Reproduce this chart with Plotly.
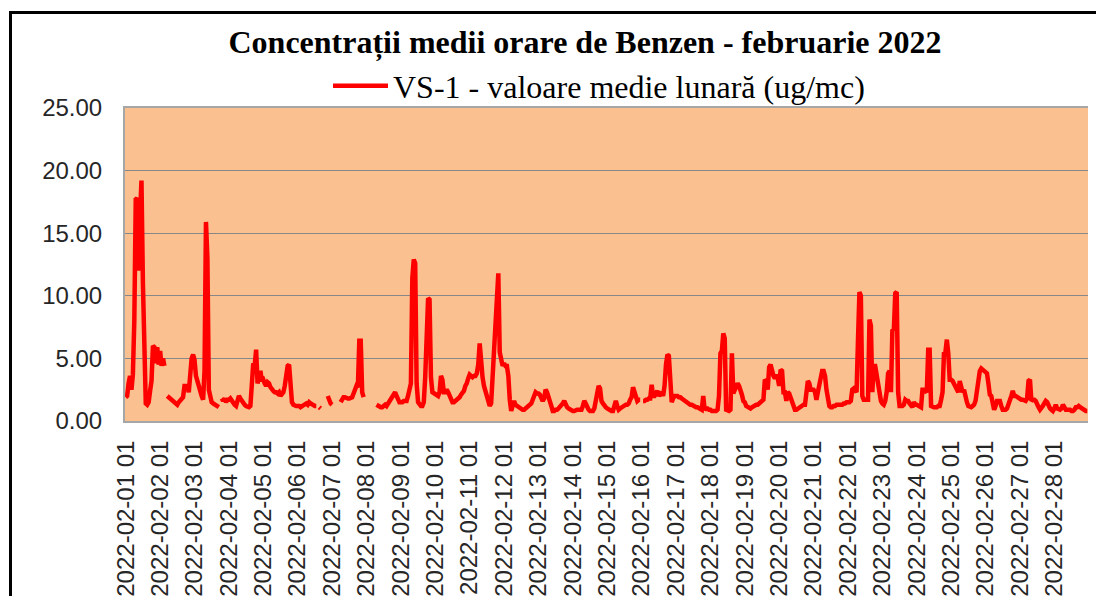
import plotly.graph_objects as go

# ---- categories / tick labels ----
days = [f"{d:02d}" for d in range(1, 29)]
hours = [f"{h:02d}" for h in range(1, 25)]
categories = [f"2022-02-{d} {h}" for d in days for h in hours]
tick_labels = [f"2022-02-{d} 01" for d in days]
y_ticks = [0, 5, 10, 15, 20, 25]

# ---- hourly benzene values (ug/mc), one list per day, None = missing ----
feb01 = [1.9, 2.0, 3.0, 3.6, 2.5, 3.7, 8.0, 17.7, 17.8, 12.0, 16.5, 19.2, 11.0, 3.5, 1.4, 1.3, 1.5, 2.4, 3.2, 6.0, 5.9, 4.6, 5.9, 4.5]
feb02 = [5.6, 4.4, 5.0, 4.4, None, 2.0, 1.9, 1.8, 1.6, 1.5, 1.4, 1.3, 1.3, 1.5, 1.6, 1.8, 1.9, 2.8, 2.8, 2.8, 2.3, 4.4, 5.0, 5.3]
feb03 = [4.9, 3.6, 3.2, 2.5, 2.4, 2.0, 1.7, 4.0, 15.9, 13.0, 2.5, 1.7, 1.5, 1.4, 1.3, 1.3, 1.2, 1.1, None, 1.8, 1.6, 1.8, 1.5, 1.7]
feb04 = [1.7, 1.8, 1.6, 1.5, 1.3, 1.2, 1.5, 2.0, 1.8, 1.6, 1.4, 1.3, 1.2, 1.1, 1.1, 1.2, 2.5, 4.6, 4.4, 5.7, 3.0, 3.5, 4.0, 3.2]
feb05 = [3.3, 3.0, 2.8, 3.1, 3.0, 2.7, 2.5, 2.4, 2.3, 2.3, 2.2, 2.3, 2.0, 2.1, 2.3, 2.8, 3.6, 4.4, 4.5, 2.8, 1.5, 1.3, 1.2, 1.2]
feb06 = [1.2, 1.2, 1.1, 1.2, 1.3, 1.4, 1.4, 1.3, 1.5, 1.4, 1.3, 1.3, 1.2, 1.2, None, 1.1, 1.0, None, None, None, None, 2.0, 1.6, 1.4]
feb07 = [1.3, None, None, None, None, None, 1.5, 1.7, 1.9, 1.9, 1.8, 1.8, 1.8, 1.9, 1.9, 2.2, 2.6, 2.8, 2.7, 6.4, 6.4, 2.3, 1.9, None]
feb08 = [None, None, None, None, None, None, None, 1.3, 1.2, 1.2, 1.1, 1.1, 1.2, 1.3, 1.2, 1.4, 1.6, 1.8, 2.0, 2.2, 2.3, 2.0, 1.7, 1.5]
feb09 = [1.5, 1.5, 1.6, 1.6, 1.6, 2.0, 2.5, 3.0, 11.4, 12.9, 12.6, 3.0, 1.5, 1.3, 1.2, 1.2, 1.5, 3.5, 7.0, 9.8, 9.7, 3.5, 2.3, 2.2]
feb10 = [2.1, 2.1, 2.0, 2.3, 3.6, 3.3, 2.3, 2.3, 2.5, 2.3, 2.0, 1.8, 1.5, 1.5, 1.6, 1.6, 1.8, 1.9, 2.1, 2.3, 2.4, 2.8, 3.0, 3.4]
feb11 = [3.7, 3.6, 3.5, 3.6, 3.6, 3.8, 4.5, 6.2, 4.4, 3.5, 2.8, 2.3, 1.8, 1.4, 1.2, 1.4, 3.5, 5.7, 9.0, 10.5, 11.8, 5.5, 4.9, 4.4]
feb12 = [4.6, 4.4, 4.4, 3.6, 1.7, 0.8, 1.2, 1.6, 1.3, 1.2, 1.1, 1.1, 1.0, 0.9, 0.9, 1.0, 1.1, 1.1, 1.2, 1.4, 1.7, 2.0, 2.3, 2.2]
feb13 = [2.2, 2.1, 1.9, 1.6, 1.8, 2.5, 2.3, 2.0, 1.7, 1.2, 0.8, 0.8, 0.9, 0.9, 1.0, 1.1, 1.2, 1.4, 1.6, 1.3, 1.1, 1.0, 0.9, 0.8]
feb14 = [0.8, 0.8, 0.9, 0.9, 0.9, 0.9, 0.9, 1.2, 1.6, 1.4, 1.1, 0.9, 0.8, 0.8, 0.8, 1.0, 1.6, 2.2, 2.8, 2.6, 1.6, 1.4, 1.2, 1.1]
feb15 = [1.0, 0.9, 0.9, 0.8, 0.8, 1.2, 1.6, 1.2, 0.9, 1.0, 1.1, 1.2, 1.2, 1.3, 1.3, 1.4, 1.7, 1.9, 2.7, 2.3, 1.9, 1.6, 1.7, 1.7]
feb16 = [None, 1.6, 1.6, 1.7, 1.7, 1.8, 1.8, 2.9, 2.0, 2.0, 2.3, 2.4, 2.0, 2.2, 2.3, 2.0, 2.8, 4.5, 5.3, 5.2, 2.3, 1.5, 1.8, 2.0]
feb17 = [2.0, 2.0, 1.9, 1.9, 1.8, 1.7, 1.7, 1.6, 1.5, 1.4, 1.3, 1.3, 1.2, 1.2, 1.1, 1.1, 1.0, 0.9, 0.9, 2.0, 0.9, 1.0, 1.0, 0.9]
feb18 = [0.9, 0.8, 0.8, 0.8, 0.8, 0.9, 2.0, 5.4, 5.6, 7.0, 6.6, 0.9, 0.8, 0.8, 0.9, 5.4, 2.2, 2.5, 2.9, 3.0, 2.8, 2.5, 2.1, 1.6]
feb19 = [1.5, 1.2, 1.1, 1.0, 1.0, 1.1, 1.2, 1.2, 1.3, 1.3, 1.4, 1.4, 1.5, 1.7, 3.3, 3.2, 2.5, 4.3, 4.5, 3.8, 3.6, 3.4, 3.7, 3.4]
feb20 = [2.8, 4.1, 4.0, 2.3, 2.3, 1.6, 2.3, 2.2, 1.8, 1.5, 1.2, 0.9, 0.9, 1.0, 1.0, 1.1, 1.2, 1.3, 1.3, 2.0, 3.2, 3.0, 2.5, 2.5]
feb21 = [2.5, 2.3, 1.7, 2.3, 3.0, 3.6, 4.0, 4.0, 3.6, 2.5, 1.8, 1.2, 1.1, 1.1, 1.2, 1.2, 1.3, 1.3, 1.3, 1.3, 1.3, 1.4, 1.4, 1.5]
feb22 = [1.5, 1.5, 1.6, 2.5, 2.6, 2.4, 2.3, 6.5, 10.3, 10.0, 2.0, 1.7, 1.7, 1.7, 1.7, 8.1, 7.6, 2.3, 4.4, 4.4, 3.6, 3.0, 2.5, 1.6]
feb23 = [1.4, 1.3, 1.6, 2.3, 3.8, 4.0, 2.3, 7.3, 7.2, 10.2, 10.3, 2.3, 1.2, 1.2, 1.2, 1.3, 1.7, 1.6, 1.6, 1.4, 1.3, 1.1, 1.5, 1.3]
feb24 = [1.3, 1.2, 1.2, 1.1, 2.5, 2.5, 2.4, 2.3, 5.7, 5.7, 1.2, 1.1, 1.1, 1.1, 1.1, 1.2, 1.2, 1.7, 2.3, 5.4, 5.5, 6.5, 5.4, 3.3]
feb25 = [3.3, 3.2, 3.0, 2.8, 2.6, 2.3, 3.2, 2.5, 2.3, 2.5, 1.9, 1.5, 1.2, 1.1, 1.1, 1.2, 1.3, 1.6, 2.5, 3.6, 4.0, 4.2, 4.1, 4.0]
feb26 = [3.9, 3.8, 3.0, 2.1, 2.0, 1.2, 0.9, 1.2, 1.6, 1.6, 1.6, 1.2, 0.9, 0.9, 0.9, 1.0, 1.3, 1.5, 2.0, 2.4, 2.0, 2.0, 1.9, 1.9]
feb27 = [1.8, 1.7, 1.7, 1.6, 1.6, 1.8, 3.2, 3.3, 1.6, 1.7, 1.7, 1.6, 1.2, 1.1, 0.9, 1.0, 1.2, 1.4, 1.6, 1.5, 1.1, 1.0, 0.9, 0.8]
feb28 = [1.0, 1.3, 1.0, 0.9, 0.9, 1.0, 1.3, 1.1, 0.9, 0.9, 0.9, 0.9, 0.8, 0.8, 0.9, 1.1, 1.1, 1.2, 1.1, 1.0, 0.9, 0.9, 0.8, 0.8]

daily_lists = [feb01, feb02, feb03, feb04, feb05, feb06, feb07, feb08, feb09, feb10,
               feb11, feb12, feb13, feb14, feb15, feb16, feb17, feb18, feb19, feb20,
               feb21, feb22, feb23, feb24, feb25, feb26, feb27, feb28]
values = [v for day in daily_lists for v in day]

series_name = "VS-1 - valoare medie lunară (ug/mc)"
title_text = "Concentrații medii orare de Benzen - februarie 2022"

fig = go.Figure()
fig.add_trace(go.Scatter(
    x=categories, y=values, mode="lines", name=series_name,
    line=dict(color="#FF0000", width=4.5), connectgaps=False,
))

W, H = 1096, 596
L, R, T, B = 125, 8, 108, 175
pw, ph = W - L - R, H - T - B

def px_x(p):
    return (p - L) / pw

def px_y(p):
    return (H - B - p) / ph

fig.update_layout(
    width=W, height=H,
    margin=dict(l=L, r=R, t=T, b=B, pad=0, autoexpand=False),
    paper_bgcolor="white",
    plot_bgcolor="#FAC090",
    title=dict(
        text="<b>" + title_text + "</b>",
        font=dict(family="Liberation Serif", size=32, color="black"),
        x=585 / W, xanchor="center", xref="container",
        y=1 - 42 / H, yanchor="middle", yref="container",
    ),
    showlegend=True,
    legend=dict(
        orientation="h",
        x=px_x(328), xanchor="left",
        y=px_y(86), yanchor="middle",
        font=dict(family="Liberation Serif", size=32, color="black"),
        bgcolor="rgba(0,0,0,0)",
        itemwidth=55,
    ),
    xaxis=dict(
        type="category",
        range=[-0.5, len(categories) - 0.5],
        tickmode="array",
        tickvals=tick_labels,
        ticktext=tick_labels,
        tickangle=-90,
        tickfont=dict(family="Liberation Sans", size=24, color="#262626"),
        showgrid=False,
        showline=True, linecolor="#A6A6A6", linewidth=2,
        mirror=True,
        ticks="",
        ticklabelstandoff=8,
        zeroline=False,
        automargin=False,
    ),
    yaxis=dict(
        range=[0, 25],
        tickmode="array",
        tickvals=y_ticks,
        tickformat=".2f",
        tickfont=dict(family="Liberation Sans", size=24, color="#262626"),
        showgrid=True, gridcolor="#878787", gridwidth=1,
        showline=True, linecolor="#A6A6A6", linewidth=2,
        ticks="",
        ticklabelstandoff=16,
        zeroline=False,
        automargin=False,
    ),
    shapes=[
        dict(type="line", xref="paper", yref="paper",
             x0=px_x(10.5), x1=px_x(10.5), y0=px_y(12), y1=px_y(H + 20),
             line=dict(color="black", width=3), layer="above"),
        dict(type="line", xref="paper", yref="paper",
             x0=px_x(9), x1=px_x(W + 20), y0=px_y(12.5), y1=px_y(12.5),
             line=dict(color="black", width=3), layer="above"),
    ],
)

fig.write_html(
    "out.html",
    config={"displayModeBar": False},
    post_script="document.body.style.margin='0';document.body.style.overflow='hidden';",
)
